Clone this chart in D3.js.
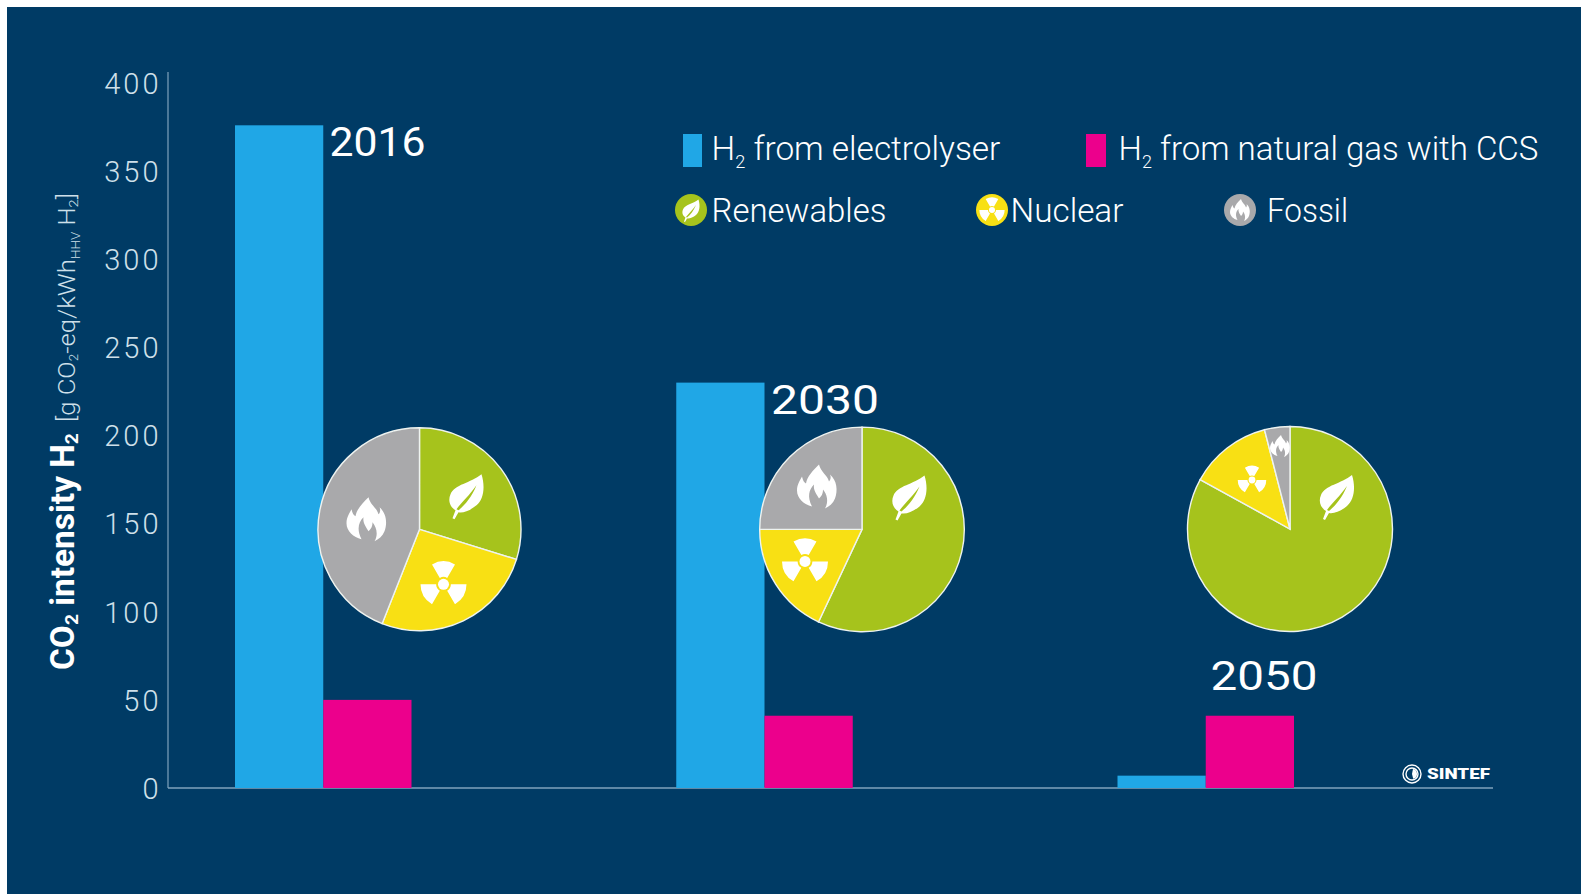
<!DOCTYPE html>
<html>
<head>
<meta charset="utf-8">
<script src="https://cdnjs.cloudflare.com/ajax/libs/d3/7.8.5/d3.min.js"></script>
<style>
  html, body { margin: 0; padding: 0; background: #fff; }
  svg { display: block; }
  text { font-family: Roboto, "Noto Sans", sans-serif; }
</style>
</head>
<body>
<svg id="chart" width="1581" height="894"></svg>
<script>
// Carbon intensity of hydrogen by production route, with the power mix for each year
const years = ["2016", "2030", "2050"];
const seriesNames = ["electrolyser", "naturalGasCcs"];
const electrolyser = [376, 230, 7];
const naturalGasCcs = [50, 41, 41];
const energySources = ["Renewables", "Nuclear", "Fossil"];
const renewables = [29.8, 57, 83];
const nuclear = [26.2, 18, 13];
const fossil = [44, 25, 4];
const yTicks = [0, 50, 100, 150, 200, 250, 300, 350, 400];

const W = 1581, H = 894;
const colors = {
  bg: "#003b65", electrolyser: "#20a7e6", naturalGasCcs: "#ec008c",
  Renewables: "#a6c31c", Nuclear: "#f8e014", Fossil: "#a9a9ab",
  axis: "#7fa3bd", tick: "#cfe0ea"
};

const svg = d3.select("#chart");
svg.append("rect").attr("x", 7).attr("y", 7).attr("width", W - 7).attr("height", H - 7).attr("fill", colors.bg);

const y = d3.scaleLinear().domain([0, 400]).range([788, 83]);
const x = d3.scaleBand().domain(years).range([235, 1294]).paddingInner(0.6);
const xInner = d3.scaleBand().domain(seriesNames).range([0, x.bandwidth()]);

// Sets a run-based label and squeezes it horizontally to the wanted width
function label(parent, opts) {
  const t = parent.append("text")
    .attr("fill", opts.fill || "#fff")
    .attr("font-size", opts.size)
    .attr("font-weight", opts.weight || 300);
  let pendingDy = 0;
  opts.runs.forEach(r => {
    const ts = t.append("tspan").text(r.text);
    if (r.size) ts.attr("font-size", r.size);
    if (r.weight) ts.attr("font-weight", r.weight);
    const dy = (r.dy || 0) - pendingDy;
    if (dy) ts.attr("dy", dy);
    pendingDy = r.dy || 0;
  });
  const k = opts.width / t.node().getComputedTextLength();
  t.attr("transform", `translate(${opts.x},${opts.y}) rotate(${opts.rotate || 0}) scale(${k},1)`);
  return t;
}

// Axes
const yAxis = d3.axisLeft(y).tickValues(yTicks).tickSize(0).tickPadding(6.5);
const axisG = svg.append("g").attr("transform", "translate(168,1)").call(yAxis);
axisG.select(".domain").remove();
axisG.selectAll("text")
  .attr("fill", colors.tick)
  .attr("font-size", 29)
  .attr("font-weight", 300)
  .attr("letter-spacing", 3)
  .style("font-family", "Roboto, sans-serif");
svg.append("line").attr("x1", 168).attr("x2", 168).attr("y1", 72).attr("y2", 788)
  .attr("stroke", colors.axis).attr("stroke-width", 1.2);
svg.append("line").attr("x1", 168).attr("x2", 1493).attr("y1", y(0)).attr("y2", y(0))
  .attr("stroke", colors.axis).attr("stroke-width", 1.4);

// Bars
const seriesValues = { electrolyser, naturalGasCcs };
seriesNames.forEach(name => {
  svg.append("g").selectAll("rect").data(years).join("rect")
    .attr("x", d => x(d) + xInner(name))
    .attr("width", xInner.bandwidth())
    .attr("y", (d, i) => y(seriesValues[name][i]))
    .attr("height", (d, i) => y(0) - y(seriesValues[name][i]))
    .attr("fill", colors[name]);
});

// White glyphs used inside the pies and the legend
const leafPath = "M15,-21 C19,-8 17,4 10,10 C4,15 -3,18 -8,17 L-12,24 L-14,23 L-11,15 C-16,12 -19,6 -16,-1 C-12,-11 4,-12 15,-21 Z M-10,14 C-4,6 3,0 10,-10 C5,2 -1,9 -8,15 Z";
const flamePath = "M2,-22 C4,-14 10,-12 12,-5 C14,-7 14,-10 13,-12 C20,-6 21,4 18,12 C16,17 12,20 8,22 C12,15 10,8 6,3 C6,8 4,10 2,12 C0,8 -4,4 -3,-2 C-8,3 -10,10 -5,20 C-13,18 -20,12 -20,4 C-20,-2 -17,-6 -15,-10 C-14,-6 -13,-4 -11,-3 C-10,-10 -4,-16 2,-22 Z";
const blade = d3.arc().innerRadius(0.32).outerRadius(1).startAngle(-Math.PI / 6).endAngle(Math.PI / 6);

function drawIcon(g, source, cx, cy, scale) {
  const icon = g.append("g").attr("transform", `translate(${cx},${cy}) scale(${scale})`).attr("fill", "#fff");
  if (source === "Renewables") icon.append("path").attr("d", leafPath).attr("fill-rule", "evenodd");
  if (source === "Fossil") icon.append("path").attr("d", flamePath);
  if (source === "Nuclear") {
    [0, 120, 240].forEach(a => icon.append("path").attr("d", blade()).attr("transform", `rotate(${a}) scale(23)`));
    icon.append("circle").attr("r", 5.5);
  }
  return icon;
}

// Pies, one for each year
const pieCenters = [[419.5, 529.3, 101.5], [862, 529.4, 102.3], [1290, 529, 102.5]];
const iconSpots = [
  { Renewables: [47, -34, 1], Nuclear: [24, 55, 1], Fossil: [-53, -10, 1] },
  { Renewables: [47.5, -33, 1], Nuclear: [-57, 32, 1], Fossil: [-45, -43, 1] },
  { Renewables: [47, -33, 1], Nuclear: [-38, -49, 0.62], Fossil: [-10, -83, 0.5] }
];
const pie = d3.pie().sort(null).value(d => d.value);

years.forEach((year, i) => {
  const [cx, cy, r] = pieCenters[i];
  const mix = [renewables[i], nuclear[i], fossil[i]].map((value, j) => ({ source: energySources[j], value }));
  const arc = d3.arc().innerRadius(0).outerRadius(r);
  const g = svg.append("g").attr("transform", `translate(${cx},${cy})`);
  const slices = pie(mix);
  g.selectAll("path").data(slices).join("path")
    .attr("d", arc)
    .attr("fill", d => colors[d.data.source])
    .attr("stroke", "#eef3f0")
    .attr("stroke-width", 1.4);
  slices.forEach((s, j) => {
    const clipId = `slice-${i}-${j}`;
    g.append("clipPath").attr("id", clipId).append("path").attr("d", arc(s));
    const [ix, iy, sc] = iconSpots[i][s.data.source];
    const holder = g.append("g").attr("clip-path", `url(#${clipId})`);
    drawIcon(holder, s.data.source, ix, iy, sc);
  });
});

// Year labels
const yearLabels = [
  { x: 329.5, y: 155.5, width: 96 },
  { x: 771, y: 414, width: 108 },
  { x: 1210.5, y: 690, width: 107 }
];
years.forEach((year, i) => {
  label(svg, { ...yearLabels[i], size: 41, weight: 400, runs: [{ text: year }] });
});

// Legend: bar series
const legend = svg.append("g");
const barKeys = [
  { name: "electrolyser", x: 683, w: 19, tx: 711.5, tw: 289, text: "from electrolyser" },
  { name: "naturalGasCcs", x: 1086, w: 20, tx: 1118.5, tw: 420, text: "from natural gas with CCS" }
];
barKeys.forEach(k => {
  legend.append("rect").attr("x", k.x).attr("y", 134).attr("width", k.w).attr("height", 33).attr("fill", colors[k.name]);
  label(legend, {
    x: k.tx, y: 159.5, width: k.tw, size: 33,
    runs: [{ text: "H" }, { text: "2", size: 18, dy: 8 }, { text: " " + k.text }]
  });
});

// Legend: energy sources
const sourceKeys = [
  { source: "Renewables", cx: 691, tx: 711.5, tw: 175 },
  { source: "Nuclear", cx: 992, tx: 1010.5, tw: 113 },
  { source: "Fossil", cx: 1240, tx: 1267, tw: 81 }
];
sourceKeys.forEach(k => {
  legend.append("circle").attr("cx", k.cx).attr("cy", 210).attr("r", 16).attr("fill", colors[k.source]);
  drawIcon(legend, k.source, k.cx, 210, k.source === "Nuclear" ? 0.55 : 0.5);
  label(legend, { x: k.tx, y: 221.7, width: k.tw, size: 33, runs: [{ text: k.source }] });
});

// Axis title, reading upward
label(svg, {
  x: 74, y: 670, width: 237, size: 33, weight: 700, rotate: -90,
  runs: [{ text: "CO" }, { text: "2", size: 19, dy: 4 }, { text: " intensity H" }, { text: "2", size: 19, dy: 4 }]
});
label(svg, {
  x: 75, y: 422, width: 229, size: 23, fill: colors.tick, rotate: -90,
  runs: [
    { text: "[g CO" }, { text: "2", size: 12, dy: 3 }, { text: "-eq/kWh" },
    { text: "HHV", size: 12, dy: 5 }, { text: " H" }, { text: "2", size: 13, dy: 3 }, { text: "]" }
  ]
});

// Institute mark in the lower right
const mark = svg.append("g").attr("transform", "translate(1412,774)");
[9, 6].forEach(r => mark.append("circle").attr("r", r).attr("fill", "none").attr("stroke", "#fff").attr("stroke-width", 1.4));
mark.append("path").attr("d", d3.arc().innerRadius(0).outerRadius(5).startAngle(0.2).endAngle(2.9)()).attr("fill", "#fff");
label(svg, { x: 1427, y: 779, width: 63, size: 14.5, weight: 900, runs: [{ text: "SINTEF" }] });
</script>
</body>
</html>
